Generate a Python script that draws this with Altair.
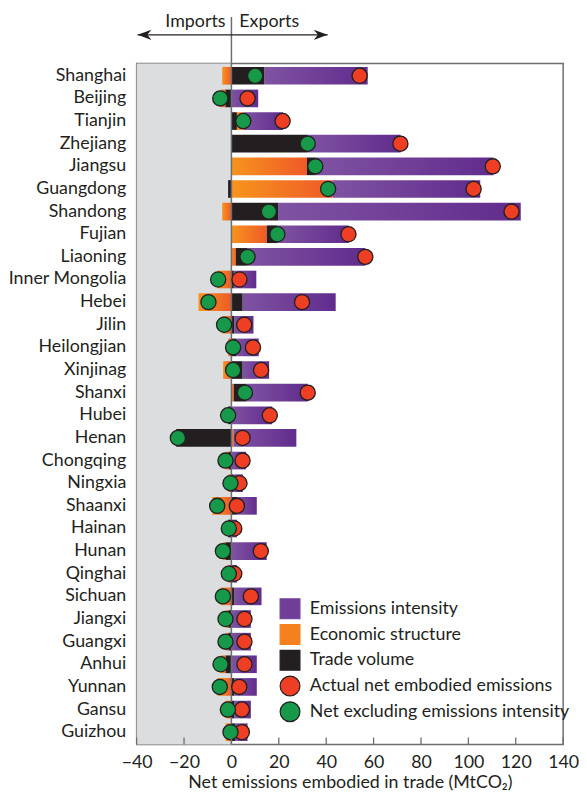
import altair as alt
import pandas as pd

provinces = ["Shanghai", "Beijing", "Tianjin", "Zhejiang", "Jiangsu", "Guangdong", "Shandong",
             "Fujian", "Liaoning", "Inner Mongolia", "Hebei", "Jilin", "Heilongjian", "Xinjinag",
             "Shanxi", "Hubei", "Henan", "Chongqing", "Ningxia", "Shaanxi", "Hainan", "Hunan",
             "Qinghai", "Sichuan", "Jiangxi", "Guangxi", "Anhui", "Yunnan", "Gansu", "Guizhou"]

# contributions (MtCO2)
trade_volume = [13.9, -2.5, 2.3, 32.2, 3.7, -1.4, 19.7, 4.5, 4.9, 1.0, 4.7, 1.2, 2.1, 4.7, 5.1,
                -1.4, -23.3, -1.1, 0.7, 2.3, -1.4, -2.5, -0.5, 1.2, -1.2, -1.2, -2.4, 1.2, 1.2, 1.6]
economic_structure = [-3.9, -2.1, 2.8, 0.0, 31.9, 42.6, -3.9, 14.9, 1.9, -6.0, -13.9, -3.9, -1.4,
                      -3.5, 1.0, 0.0, 0.8, -1.4, -1.4, -8.1, 0.0, -1.1, -1.0, -4.6, -1.1, -1.1,
                      -2.2, -6.0, -2.5, -2.5]
emissions_intensity = [43.6, 11.3, 16.7, 39.2, 75.0, 62.4, 102.4, 30.1, 49.7, 9.5, 39.3, 8.1, 9.4,
                       11.2, 26.1, 17.2, 26.6, 6.1, 4.1, 8.4, 2.3, 14.9, 2.3, 11.5, 8.2, 8.2, 10.7,
                       9.5, 7.0, 5.2]
actual_net = [54.1, 6.8, 21.6, 71.3, 110.3, 102.2, 118.2, 49.4, 56.5, 3.4, 29.8, 5.4, 9.1, 12.5,
              32.2, 16.2, 4.7, 4.7, 3.4, 2.3, 1.2, 12.4, 1.2, 8.2, 5.5, 5.5, 5.5, 3.3, 4.4, 4.4]
net_excl_intensity = [10.0, -4.7, 5.0, 32.2, 35.4, 40.8, 15.8, 19.4, 6.8, -5.6, -9.7, -3.1, 0.7,
                      0.7, 5.7, -1.4, -22.6, -2.5, -0.4, -6.0, -1.1, -3.6, -1.1, -3.6, -2.5, -2.5,
                      -4.6, -4.9, -1.5, -0.4]

x_ticks = [-40, -20, 0, 20, 40, 60, 80, 100, 120, 140]
legend_entries = ["Emissions intensity", "Economic structure", "Trade volume",
                  "Actual net embodied emissions", "Net excluding emissions intensity"]

W, H = 431, 688
DARK = "#231f20"
PURPLE_L, PURPLE_R = "#7f53a2", "#612c8d"
ORANGE_L, ORANGE_R = "#f7941d", "#ef5a28"
RED, GREEN = "#ee3e24", "#17994a"

# build stacked segments
seg = []
for i, p in enumerate(provinces):
    pos, neg = 0.0, 0.0
    t, s = trade_volume[i], economic_structure[i]
    pos_order = (("trade", t), ("structure", s)) if (0 < t < s < 5) else (("structure", s), ("trade", t))
    for comp, v in pos_order:
        if v > 0:
            seg.append(dict(province=p, comp=comp, x=pos, x2=pos + v)); pos += v
    for comp, v in (("trade", t), ("structure", s)):
        if v < 0:
            seg.append(dict(province=p, comp=comp, x=neg, x2=neg + v)); neg += v
    seg.append(dict(province=p, comp="intensity", x=pos, x2=pos + emissions_intensity[i]))
seg_df = pd.DataFrame(seg)
dots_df = pd.DataFrame({"province": provinces, "actual": actual_net, "excl": net_excl_intensity})

xs = alt.Scale(domain=[-40, 140], nice=False, zero=False)
ys = alt.Scale(domain=provinces, paddingInner=0.22, paddingOuter=0.15)

X = lambda f: alt.X(f, scale=xs, axis=alt.Axis(values=x_ticks, title="Net emissions embodied in trade (MtCO₂)"))
Y = alt.Y("province:N", scale=ys, sort=provinces, axis=alt.Axis(title=None))

grad = lambda a, b: alt.Gradient(gradient="linear", x1=0, x2=1, y1=0, y2=0,
                                 stops=[alt.GradientStop(color=a, offset=0),
                                        alt.GradientStop(color=b, offset=1)])

bg = alt.Chart(pd.DataFrame({"a": [-40], "b": [0]})).mark_rect(color="#dcdddf").encode(
    x=X("a:Q"), x2="b:Q")

base = alt.Chart(seg_df)
purple = base.transform_filter("datum.comp == 'intensity'").mark_bar(color=grad(PURPLE_L, PURPLE_R)).encode(
    x=X("x:Q"), x2="x2:Q", y=Y)
orange = base.transform_filter("datum.comp == 'structure'").mark_bar(color=grad(ORANGE_L, ORANGE_R)).encode(
    x=X("x:Q"), x2="x2:Q", y=Y)
black = base.transform_filter("datum.comp == 'trade'").mark_bar(color=DARK).encode(
    x=X("x:Q"), x2="x2:Q", y=Y)

zero = alt.Chart(pd.DataFrame({"z": [0]})).mark_rule(color="#6d6e71", strokeWidth=1.5).encode(
    x=X("z:Q"), y=alt.value(-47), y2=alt.value(H))

red = alt.Chart(dots_df).mark_circle(size=235, color=RED, opacity=1, stroke=DARK, strokeWidth=1.3).encode(
    x=X("actual:Q"), y=Y)
green = alt.Chart(dots_df).mark_circle(size=235, color=GREEN, opacity=1, stroke=DARK, strokeWidth=1.3).encode(
    x=X("excl:Q"), y=Y)

ticks = alt.Chart(pd.DataFrame({"t": x_ticks})).mark_rule(color="#6d6e71", strokeWidth=1.3).encode(
    x=X("t:Q"), y=alt.value(H), y2=alt.value(H - 7))

arrow_df = pd.DataFrame({"a": [-39.6], "b": [40.6]})
arrow_line = alt.Chart(arrow_df).mark_rule(color=DARK, strokeWidth=1.5).encode(
    x=X("a:Q"), x2="b:Q", y=alt.value(-29))
head_l = alt.Chart(arrow_df).mark_point(shape="M0,0 L2,-0.75 L1.4,0 L2,0.75 Z", filled=True,
                                        color=DARK, opacity=1, size=196).encode(x=X("a:Q"), y=alt.value(-29))
head_r = alt.Chart(arrow_df).mark_point(shape="M0,0 L-2,-0.75 L-1.4,0 L-2,0.75 Z", filled=True,
                                        color=DARK, opacity=1, size=196).encode(x=X("b:Q"), y=alt.value(-29))
lab_df = pd.DataFrame({"z": [0]})
imports = alt.Chart(lab_df).mark_text(text="Imports", align="right", dx=-6, baseline="middle",
                                      fontSize=18, color=DARK).encode(x=X("z:Q"), y=alt.value(-41.5))
exports = alt.Chart(lab_df).mark_text(text="Exports", align="left", dx=8, baseline="middle",
                                      fontSize=18, color=DARK).encode(x=X("z:Q"), y=alt.value(-41.5))

leg = alt.Legend(title=None, orient="none", legendX=144, legendY=540, symbolSize=400,
                 labelFontSize=18, labelColor=DARK, labelLimit=0, rowPadding=0, labelOffset=9,
                 symbolStrokeWidth=1.2, padding=0)
legend_layer = alt.Chart(pd.DataFrame({"entry": legend_entries, "v": [0] * 5})).transform_filter(
    "datum.v > 1000").mark_point(filled=True, opacity=1).encode(
    x=X("v:Q"),
    color=alt.Color("entry:N", scale=alt.Scale(domain=legend_entries,
                    range=["#6f3f98", "#f4801f", DARK, RED, GREEN]), legend=leg),
    shape=alt.Shape("entry:N", scale=alt.Scale(domain=legend_entries,
                    range=["square", "square", "square", "circle", "circle"]), legend=leg),
    stroke=alt.Stroke("entry:N", scale=alt.Scale(domain=legend_entries,
                      range=["#6f3f98", "#f4801f", DARK, DARK, DARK]), legend=leg),
)

chart = alt.layer(bg, purple, orange, black, zero, red, green, ticks, arrow_line, head_l, head_r,
                  imports, exports, legend_layer).properties(
    width=W, height=H, autosize=alt.AutoSizeParams(type="none"),
    padding={"left": 130, "top": 52, "right": 16, "bottom": 50}).configure(
    font="Lato", background="white").configure_view(stroke="#6d6e71", strokeWidth=1.5).configure_axisX(
    domain=False, ticks=False, grid=False, labelFontSize=18, labelColor=DARK, labelPadding=9,
    labelFlush=False, titleFontSize=18, titleFontWeight="normal", titleColor=DARK, titlePadding=3).configure_axisY(
    domain=False, ticks=False, grid=False, labelFontSize=18, labelColor=DARK, labelPadding=11)

chart.save("out.html", embed_options={"renderer": "svg", "actions": False})
